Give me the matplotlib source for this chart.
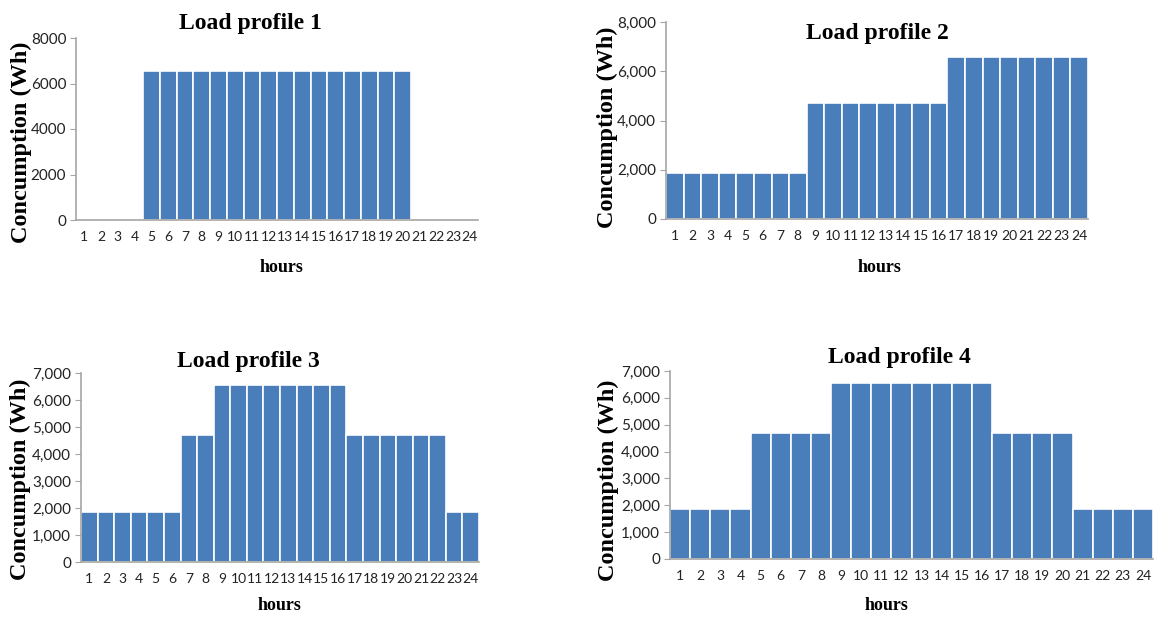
import numpy as np
import matplotlib.pyplot as plt
from matplotlib.ticker import FuncFormatter

hours = list(range(1, 25))
profile_1 = [0, 0, 0, 0] + [6560] * 16 + [0, 0, 0, 0]
profile_2 = [1850] * 8 + [4700] * 8 + [6560] * 8
profile_3 = [1850] * 6 + [4700] * 2 + [6560] * 8 + [4700] * 6 + [1850] * 2
profile_4 = [1850] * 4 + [4700] * 4 + [6560] * 8 + [4700] * 4 + [1850] * 4
titles = ['Load profile 1', 'Load profile 2', 'Load profile 3', 'Load profile 4']

W, H = 1154, 617
bar_color = '#4a7ebb'
axis_color = '#a6a6a6'
serif = ['Liberation Serif', 'DejaVu Serif']
sans = ['Lato', 'DejaVu Sans']

fig = plt.figure(figsize=(W / 100, H / 100), dpi=100)


def box(l, r, t, b):
    return [l / W, 1 - b / H, (r - l) / W, (b - t) / H]


def panel(rect, data, ymax, step, comma, title, title_xy, xlab_xy, ylab_xy):
    ax = fig.add_axes(box(*rect))
    ax.bar(np.arange(len(hours)), data, width=1.0, color=bar_color,
           edgecolor='white', linewidth=1.2)
    ax.set_xlim(-0.5, len(hours) - 0.5)
    ax.set_ylim(0, ymax)
    ax.set_yticks(np.arange(0, ymax + 1, step))
    if comma:
        ax.yaxis.set_major_formatter(FuncFormatter(lambda v, p: f'{int(v):,}'))
    else:
        ax.yaxis.set_major_formatter(FuncFormatter(lambda v, p: f'{int(v)}'))
    ax.set_xticks(np.arange(len(hours)))
    ax.set_xticklabels([str(h) for h in hours])
    for s in ['top', 'right']:
        ax.spines[s].set_visible(False)
    for s in ['left', 'bottom']:
        ax.spines[s].set_color(axis_color)
        ax.spines[s].set_linewidth(1.2)
    ax.tick_params(axis='y', length=4, color=axis_color, labelsize=11, pad=3)
    ax.tick_params(axis='x', length=0, labelsize=10, pad=8)
    for lab in ax.get_xticklabels() + ax.get_yticklabels():
        lab.set_fontfamily(sans)
        lab.set_color('#222222')
    fig.text(title_xy[0] / W, 1 - title_xy[1] / H, title, ha='center', va='center',
             family=serif, fontweight='bold', fontsize=17)
    fig.text(xlab_xy[0] / W, 1 - xlab_xy[1] / H, 'hours', ha='center', va='center',
             family=serif, fontweight='bold', fontsize=13)
    fig.text(ylab_xy[0] / W, 1 - ylab_xy[1] / H, 'Concumption (Wh)', ha='center',
             va='center', rotation=90, family=serif, fontweight='bold', fontsize=17.5)
    return ax


panel((76, 478, 38, 220), profile_1, 8000, 2000, False, titles[0],
      (250, 24), (282, 267), (21, 142))
panel((666, 1088, 22, 219), profile_2, 8000, 2000, True, titles[1],
      (877, 34), (880, 267), (607, 127))
panel((81, 479, 373, 562), profile_3, 7000, 1000, True, titles[2],
      (248, 361), (280, 606), (20, 479))
panel((670, 1153, 371, 559), profile_4, 7000, 1000, True, titles[3],
      (899, 357), (887, 605), (608, 480))

fig.savefig('out.png', dpi=100)
